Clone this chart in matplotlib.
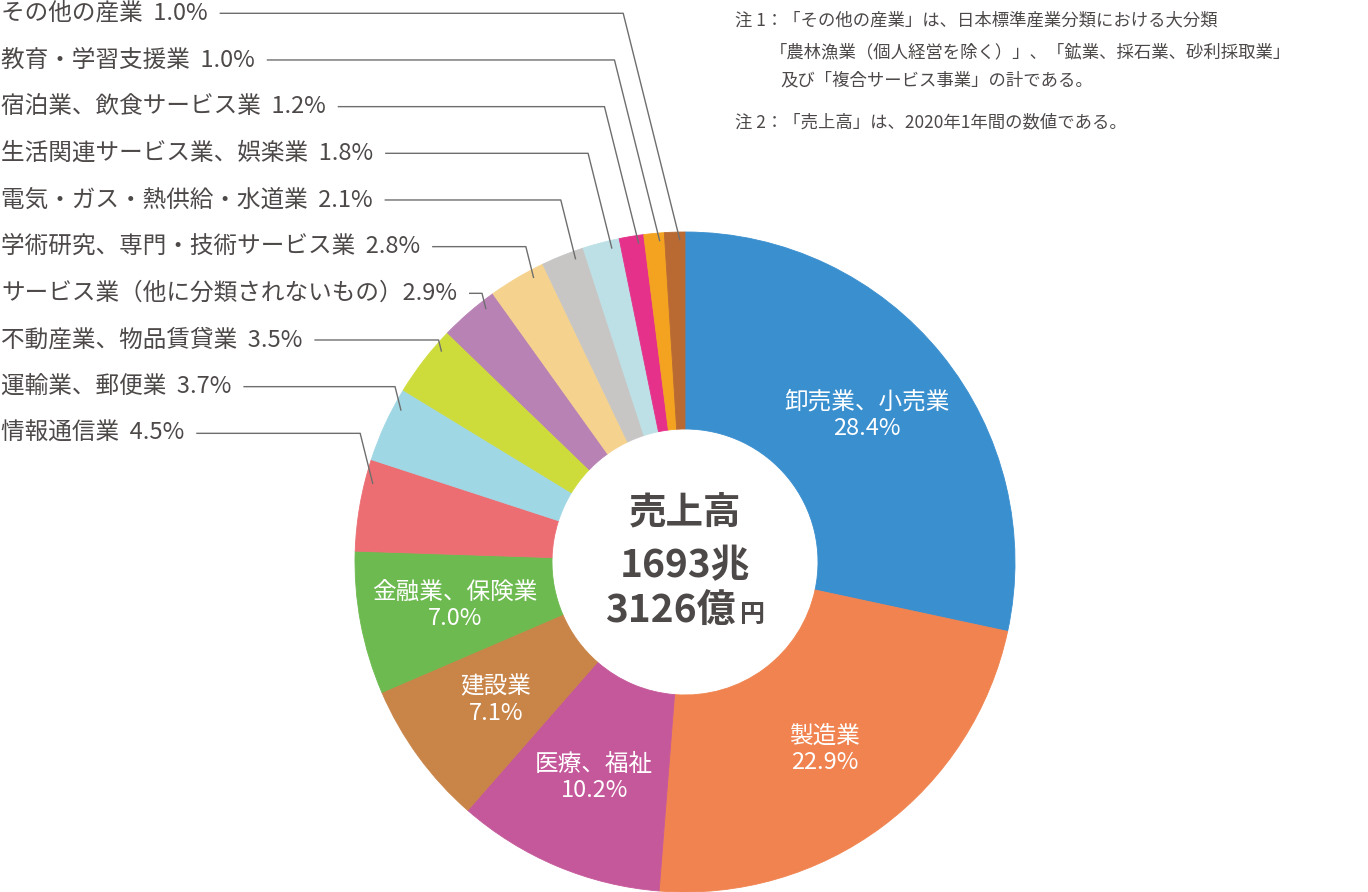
#!/usr/bin/env python3
"""
Donut chart of sales by industry (売上高 1693兆3126億円, 2020).
"""

import numpy as np
import matplotlib
matplotlib.use("Agg")
import matplotlib.pyplot as plt

plt.rcParams["font.family"] = ["Noto Sans CJK JP", "DejaVu Sans"]

industries = [
    "卸売業、小売業", "製造業", "医療、福祉", "建設業", "金融業、保険業",
    "情報通信業", "運輸業、郵便業", "不動産業、物品賃貸業",
    "サービス業（他に分類されないもの）", "学術研究、専門・技術サービス業",
    "電気・ガス・熱供給・水道業", "生活関連サービス業、娯楽業",
    "宿泊業、飲食サービス業", "教育・学習支援業", "その他の産業",
]
shares = [28.4, 22.9, 10.2, 7.1, 7.0, 4.5, 3.7, 3.5, 2.9, 2.8, 2.1, 1.8, 1.2, 1.0, 1.0]
colors = [
    "#3A8FCF", "#F0834F", "#C5589A", "#C98448", "#6DBA50",
    "#EC6E73", "#A0D7E4", "#CEDC3B", "#B882B5", "#F5D38E",
    "#C8C6C5", "#BCE0E5", "#E5318A", "#F4A321", "#B86A32",
]
n_inside = 5  # first five slices carry their label inside the ring

center_title = "売上高"
center_amount = ["1693兆", "3126億", "円"]

notes = [
    "注 1：「その他の産業」は、日本標準産業分類における大分類",
    "「農林漁業（個人経営を除く）」、「鉱業、採石業、砂利採取業」",
    "及び「複合サービス事業」の計である。",
    "注 2：「売上高」は、2020年1年間の数値である。",
]

W, H = 1368, 892
TEXT = "#4d4948"
LINE = "#6e6e6e"

fig = plt.figure(figsize=(W / 100, H / 100), dpi=100)
ax = fig.add_axes([0, 0, 1, 1])

cx, cy = 685, H - 562
R, r_in = 330, 133

wedges, _ = ax.pie(shares, colors=colors, startangle=90, counterclock=False,
                   radius=R, center=(cx, cy),
                   wedgeprops=dict(width=R - r_in, linewidth=0.6))
for w in wedges:
    w.set_edgecolor(w.get_facecolor())

ax.set_xlim(0, W)
ax.set_ylim(0, H)
ax.set_aspect("equal")
ax.axis("off")

renderer = fig.canvas.get_renderer()

# labels inside the ring
r_lab = 234
for i in range(n_inside):
    w = wedges[i]
    mid = np.deg2rad((w.theta1 + w.theta2) / 2)
    ax.text(cx + r_lab * np.cos(mid), cy + r_lab * np.sin(mid),
            f"{industries[i]}\n{shares[i]:.1f}%", ha="center", va="center",
            color="white", fontsize=17, linespacing=1.2)

# small slices: labels stacked on the left with leader lines
row0, row_step = 13.3, 46.67
r_end = 0.975 * R
for k, i in enumerate(range(len(shares) - 1, n_inside - 1, -1)):
    y_row = H - (row0 + row_step * k)
    gap = "" if industries[i].endswith("）") else "  "
    t = ax.text(1, y_row, f"{industries[i]}{gap}{shares[i]:.1f}%", ha="left",
                va="center", fontsize=17, color=TEXT)
    x_txt = t.get_window_extent(renderer=renderer).x1

    w = wedges[i]
    lo, hi = sorted([w.theta1 % 360, w.theta2 % 360])
    span = hi - lo
    s = np.clip((y_row - cy) / r_end, -1, 1)
    target = 180 - np.degrees(np.arcsin(s))
    ang = np.clip(target, lo + 0.25 * span, hi - 0.25 * span)
    ex = cx + r_end * np.cos(np.deg2rad(ang))
    ey = cy + r_end * np.sin(np.deg2rad(ang))
    elbow_x = ex - 0.25 * (y_row - ey)
    ax.plot([x_txt + 12, elbow_x, ex], [y_row, y_row, ey],
            color=LINE, linewidth=1.0, solid_capstyle="butt")

# total in the middle
ax.text(cx, H - 512, center_title, ha="center", va="center",
        fontsize=27, fontweight="bold", color=TEXT)
ax.text(cx, H - 566, center_amount[0], ha="center", va="center",
        fontsize=28, fontweight="bold", color=TEXT)
t1 = ax.text(0, H - 622, center_amount[1], ha="left", va="baseline",
             fontsize=28, fontweight="bold", color=TEXT)
t2 = ax.text(0, H - 622, center_amount[2], ha="left", va="baseline",
             fontsize=18, fontweight="bold", color=TEXT)
w1 = t1.get_window_extent(renderer=renderer).width
w2 = t2.get_window_extent(renderer=renderer).width
x0 = cx - (w1 + 4 + w2) / 2
t1.set_x(x0)
t2.set_x(x0 + w1 + 4)

# notes, top right
note_pos = [(735, 20), (770, 52), (780, 80), (735, 122)]
for txt, (x, y) in zip(notes, note_pos):
    ax.text(x, H - y, txt, ha="left", va="center", fontsize=12.5, color=TEXT)

plt.savefig("out.png", dpi=100)
plt.close()
